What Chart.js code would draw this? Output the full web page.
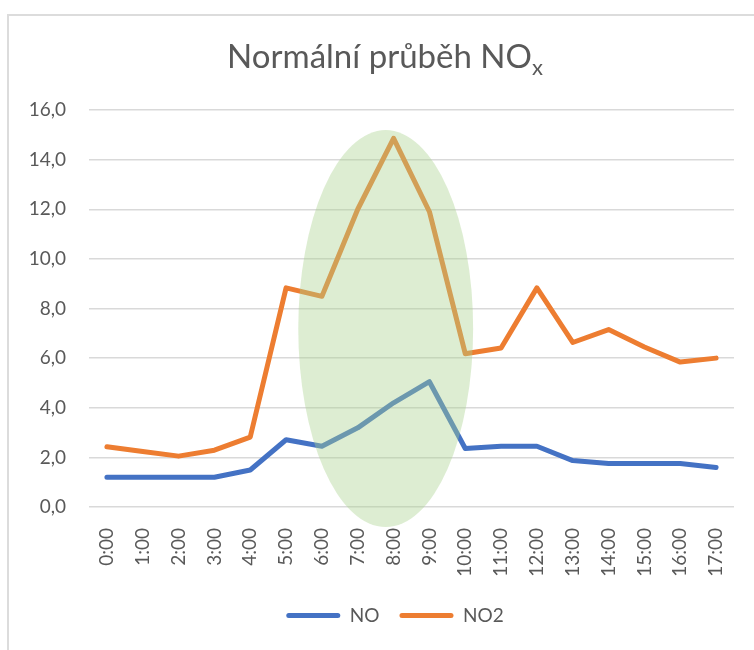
<!DOCTYPE html>
<html lang="cs">
<head>
<meta charset="utf-8">
<script src="https://cdn.jsdelivr.net/npm/chart.js@4"></script>
<style>
  html, body { margin: 0; padding: 0; background: #fff; overflow: hidden; }
  #wrap { position: relative; width: 754px; height: 650px; }
  #frame { position: absolute; left: 7px; top: 14px; width: 900px; height: 900px;
           border: 2px solid #dcdcdc; box-sizing: border-box; }
  #title { position: absolute; left: 0; top: 35px; width: 770px; text-align: center;
           font-family: Lato, sans-serif; font-size: 33px; color: #595959; line-height: 40px; }
  #title sub { font-size: 22px; vertical-align: -7px; line-height: 0; }
  canvas { position: absolute; left: 0; top: 0; }
</style>
</head>
<body>
<div id="wrap">
  <div id="frame"></div>
  <canvas id="noxChart" width="754" height="650"></canvas>
  <div id="title">Normální průběh NO<sub>x</sub></div>
</div>
<script>
// ── DATA ─────────────────────────────────────────────
const HOURS = ['0:00','1:00','2:00','3:00','4:00','5:00','6:00','7:00','8:00',
               '9:00','10:00','11:00','12:00','13:00','14:00','15:00','16:00','17:00'];
const NO_VALUES  = [1.2, 1.2, 1.2, 1.2, 1.49, 2.71, 2.45, 3.19, 4.2, 5.05, 2.36, 2.45, 2.45, 1.87, 1.75, 1.75, 1.75, 1.59];
const NO2_VALUES = [2.43, 2.24, 2.05, 2.29, 2.82, 8.83, 8.49, 12.0, 14.86, 11.9, 6.18, 6.41, 8.83, 6.63, 7.15, 6.45, 5.84, 6.0];
const Y_TICKS = [0, 2, 4, 6, 8, 10, 12, 14, 16];

// highlighted morning peak (in axis units: category index / value)
const HIGHLIGHT = { cx: 7.78, cy: 7.19, rx: 2.44, ry: 8.0 };

const TEXT = '#595959';
const FONT = 'Lato, sans-serif';

// ── ellipse overlay ──
const highlightPlugin = {
  id: 'highlight',
  afterDatasetsDraw(chart) {
    const { ctx, scales: { x, y } } = chart;
    const cx = x.getPixelForValue(HIGHLIGHT.cx);
    const cy = y.getPixelForValue(HIGHLIGHT.cy);
    const rx = x.getPixelForValue(HIGHLIGHT.cx + HIGHLIGHT.rx) - cx;
    const ry = cy - y.getPixelForValue(HIGHLIGHT.cy + HIGHLIGHT.ry);
    ctx.save();
    ctx.beginPath();
    ctx.ellipse(cx, cy, rx, ry, 0, 0, Math.PI * 2);
    ctx.fillStyle = 'rgba(169, 209, 142, 0.4)';
    ctx.fill();
    ctx.restore();
  }
};

// legend sits centred under the plot area rather than the whole canvas
const legendShift = {
  id: 'legendShift',
  afterLayout(chart) {
    if (chart.legend) chart.legend.left += 26;
  }
};

new Chart(document.getElementById('noxChart'), {
  type: 'line',
  data: {
    labels: HOURS,
    datasets: [
      { label: 'NO',  data: NO_VALUES,  borderColor: '#4472C4', backgroundColor: '#4472C4' },
      { label: 'NO2', data: NO2_VALUES, borderColor: '#ED7D31', backgroundColor: '#ED7D31' },
    ]
  },
  options: {
    responsive: false,
    animation: false,
    layout: { padding: { left: 30, right: 20, top: 110, bottom: 15 } },
    elements: {
      line: { borderWidth: 5, tension: 0, borderJoinStyle: 'round', borderCapStyle: 'round' },
      point: { radius: 0 }
    },
    scales: {
      x: {
        offset: true,
        grid: { display: false },
        border: { display: false },
        ticks: { color: TEXT, font: { family: FONT, size: 19 }, minRotation: 90, maxRotation: 90, padding: 13 },
        afterFit: s => { s.height = 79; }
      },
      y: {
        min: 0, max: 16,
        afterBuildTicks: s => { s.ticks = Y_TICKS.map(v => ({ value: v })); },
        grid: { color: '#d9d9d9', lineWidth: 1.5, drawTicks: false },
        border: { display: false },
        ticks: {
          color: TEXT, font: { family: FONT, size: 19 }, padding: 23,
          callback: v => v.toFixed(1).replace('.', ',')
        },
        afterFit: s => { s.width = 59; }
      }
    },
    plugins: {
      title: { display: false },
      tooltip: { enabled: false },
      legend: {
        position: 'bottom',
        labels: {
          color: TEXT,
          font: { family: FONT, size: 19 },
          boxWidth: 54,
          boxHeight: 5,
          padding: 20,
          useBorderRadius: true,
          borderRadius: 2.5,
          generateLabels: chart => chart.data.datasets.map((ds, i) => ({
            text: ds.label,
            fillStyle: ds.borderColor,
            strokeStyle: ds.borderColor,
            lineWidth: 0,
            borderRadius: 2.5,
            fontColor: TEXT,
            datasetIndex: i,
            hidden: false
          }))
        }
      }
    }
  },
  plugins: [highlightPlugin, legendShift]
});
</script>
</body>
</html>
